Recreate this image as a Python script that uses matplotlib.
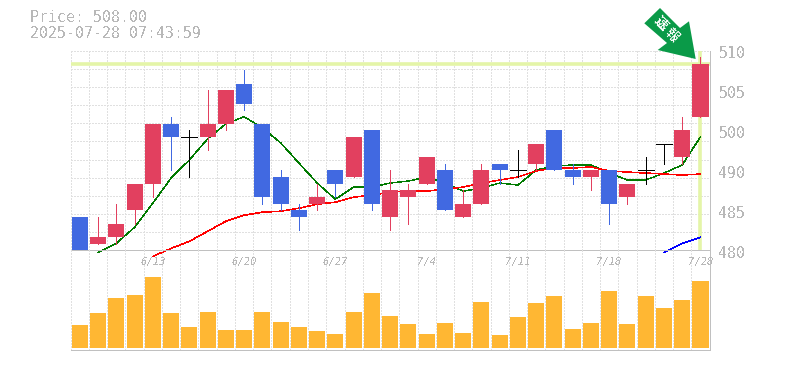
import matplotlib
matplotlib.use('Agg')
import matplotlib.pyplot as plt
from matplotlib.patches import Polygon

plt.rcParams['font.family'] = ['DejaVu Sans Mono', 'Noto Sans CJK JP']
plt.rcParams['text.antialiased'] = False

# ローソク足
opens = [485, 481, 482, 486, 490, 499, 497, 497, 499, 505, 499, 491, 486, 487, 492, 491, 498, 485,
         488, 490, 492, 485, 487, 493, 492, 493, 498, 492, 491, 492, 488, 492, 496, 494, 500]
highs = [485, 485, 487, 490, 499, 500, 498, 504, 504, 507, 499, 492, 487, 490, 492, 497, 498, 492,
         490, 494, 493, 489, 493, 493, 495, 496, 498, 493, 492, 492, 490, 494, 496, 500, 509]
lows = [480, 481, 481, 484, 488, 492, 491, 495, 498, 501, 487, 486, 483, 486, 488, 491, 486, 483,
        484, 490, 486, 485, 487, 490, 491, 492, 492, 490, 489, 484, 487, 490, 493, 493, 500]
closes = [480, 482, 484, 490, 499, 497, 497, 499, 504, 502, 488, 487, 485, 488, 490, 497, 487, 489,
          489, 494, 486, 487, 492, 492, 492, 496, 492, 491, 492, 487, 490, 492, 496, 498, 508]

# 移動平均
ma_short = [479.7, 481.06, 483.47, 487.09, 490.86, 493.57, 496.74, 499.0, 500.06, 498.4,
            496.14, 493.12, 490.11, 487.69, 489.5, 489.5, 490.11, 490.41, 491.0, 490.11,
            488.9, 489.35, 490.11, 489.8, 492.07, 492.67, 492.82, 492.82, 491.61, 490.56,
            490.56, 491.61, 492.82, 497.04]
ma_mid = [479.1, 480.3, 481.36, 482.87, 484.37, 485.28, 485.73, 485.88, 486.33, 486.94, 487.24,
          487.99, 488.3, 488.75, 488.9, 488.9, 489.2, 489.5, 490.11, 490.56, 491.01, 491.92,
          492.37, 492.37, 492.52, 491.92, 491.76, 491.61, 491.46, 491.31, 491.46]
ma_long = [479.7, 481.06, 481.96]

volumes = [23, 35, 50, 53, 71, 35, 21, 36, 18, 18, 36, 26, 21, 17, 14, 36, 55, 32,
           24, 14, 25, 15, 46, 13, 31, 45, 52, 19, 25, 57, 24, 52, 40, 48, 67]

date_pos = [4, 9, 14, 19, 24, 29, 34]
date_labels = ['6/13', '6/20', '6/27', '7/4', '7/11', '7/18', '7/28']
price_ticks = [510, 504, 498, 492, 486, 480]
price_labels = ['510', '505', '500', '490', '485', '480']
last_price = 508

W, H = 785, 370
RED = '#e2405f'
BLUE = '#4169e1'
ORANGE = '#ffb733'
GRID = '#e0e0e0'
EDGE = '#c0c0c0'
TEXT = '#b8b8b8'
HILITE = '#e4f5a8'
PX = 0.72
THIN = 0.3


def make_axes(top, bottom):
    return fig.add_axes([70.7 / W, 1 - bottom / H, (709.6 - 70.7) / W, (bottom - top) / H])


def style_axes(ax):
    ax.set_xlim(-0.5, 34.5)
    ax.set_xticks([i - 0.5 for i in range(36)])
    ax.grid(True, axis='x', color=GRID, lw=PX, linestyle=(0, (2.0, 2.0)), antialiased=False)
    ax.tick_params(length=0, labelbottom=False, labelleft=False)
    ax.set_axisbelow(True)
    ax.patch.set_alpha(0)
    for side in ['top', 'left']:
        ax.spines[side].set_visible(False)
    for side in ['bottom', 'right']:
        ax.spines[side].set_color(EDGE)
        ax.spines[side].set_linewidth(PX)


fig = plt.figure(figsize=(W / 100, H / 100), dpi=100, facecolor='white')
ax = make_axes(50.5, 250.4)
vol = make_axes(250.4, 350)
style_axes(ax)
style_axes(vol)

# 価格
ax.set_ylim(480, 510)
ax.grid(True, axis='y', color=GRID, lw=PX, linestyle=(0, (2.0, 2.0)), antialiased=False)
ax.set_yticks([480 + i * 30 / 11 for i in range(12)])

ax.axhline(last_price, color=HILITE, lw=2.6, zorder=1.5)
ax.axvline(34, color=HILITE, lw=2.6, zorder=1.5)

xs = list(range(35))
ax.plot(xs[1:], ma_short, color='#007a00', lw=THIN, antialiased=False, clip_on=False, zorder=2)
ax.plot(xs[4:], ma_mid, color='#ff0000', lw=0.4, antialiased=False, clip_on=False, zorder=2.1)
ax.plot(xs[32:], ma_long, color='#0000ff', lw=0.4, antialiased=False, clip_on=False, zorder=2.1)

for i in xs:
    o, h, l, c = opens[i], highs[i], lows[i], closes[i]
    if c > o:
        col = RED
    elif c < o:
        col = BLUE
    else:
        col = 'black'
    ax.vlines(i, l, h, color=col, lw=PX, zorder=3, antialiased=False)
    if c == o:
        ax.hlines(c, i - 0.44, i + 0.44, color=col, lw=PX, zorder=3, antialiased=False)
    else:
        ax.bar(i, abs(c - o), bottom=min(o, c), width=0.88, color=col, zorder=4, antialiased=False)

for t, s in zip(price_ticks, price_labels):
    ax.annotate(s, xy=(1, t), xycoords=('axes fraction', 'data'), xytext=(9, -3),
                textcoords='offset pixels', color=TEXT, fontsize=10.7, va='center', ha='left')

# 出来高
vol.set_ylim(-2, 97.6)
vol.set_yticks([])
vol.bar(xs, volumes, width=0.88, color=ORANGE, zorder=3, antialiased=False)
for p, s in zip(date_pos, date_labels):
    fig.text((70.7 + (p + 0.5) * (709.6 - 70.7) / 35) / W, 1 - 262 / H, s, color=TEXT,
             fontsize=7.6, style='italic', ha='center', va='center', zorder=0)

# 見出し
fig.text(30 / W, 1 - 18 / H, 'Price: 508.00', color=TEXT, fontsize=10.7, va='center')
fig.text(30 / W, 1 - 33 / H, '2025-07-28 07:43:59', color=TEXT, fontsize=10.7, va='center')

# 矢印
arrow_px = [(660, 8), (644.3, 23.3), (667, 43), (657.7, 50), (695.7, 59), (689, 21.3), (680, 28)]
arrow_pts = [(x / W, 1 - y / H) for x, y in arrow_px]
fig.add_artist(Polygon(arrow_pts, closed=True, transform=fig.transFigure, color='#0a9a48', lw=0))
fig.text(661 / W, 1 - 23 / H, '速', color='white', fontsize=9.5, fontweight='bold', rotation=-45,
         ha='center', va='center', family='Noto Sans CJK JP')
fig.text(672 / W, 1 - 35 / H, '報', color='white', fontsize=9.5, fontweight='bold', rotation=-45,
         ha='center', va='center', family='Noto Sans CJK JP')

fig.savefig('out.png', dpi=100)
